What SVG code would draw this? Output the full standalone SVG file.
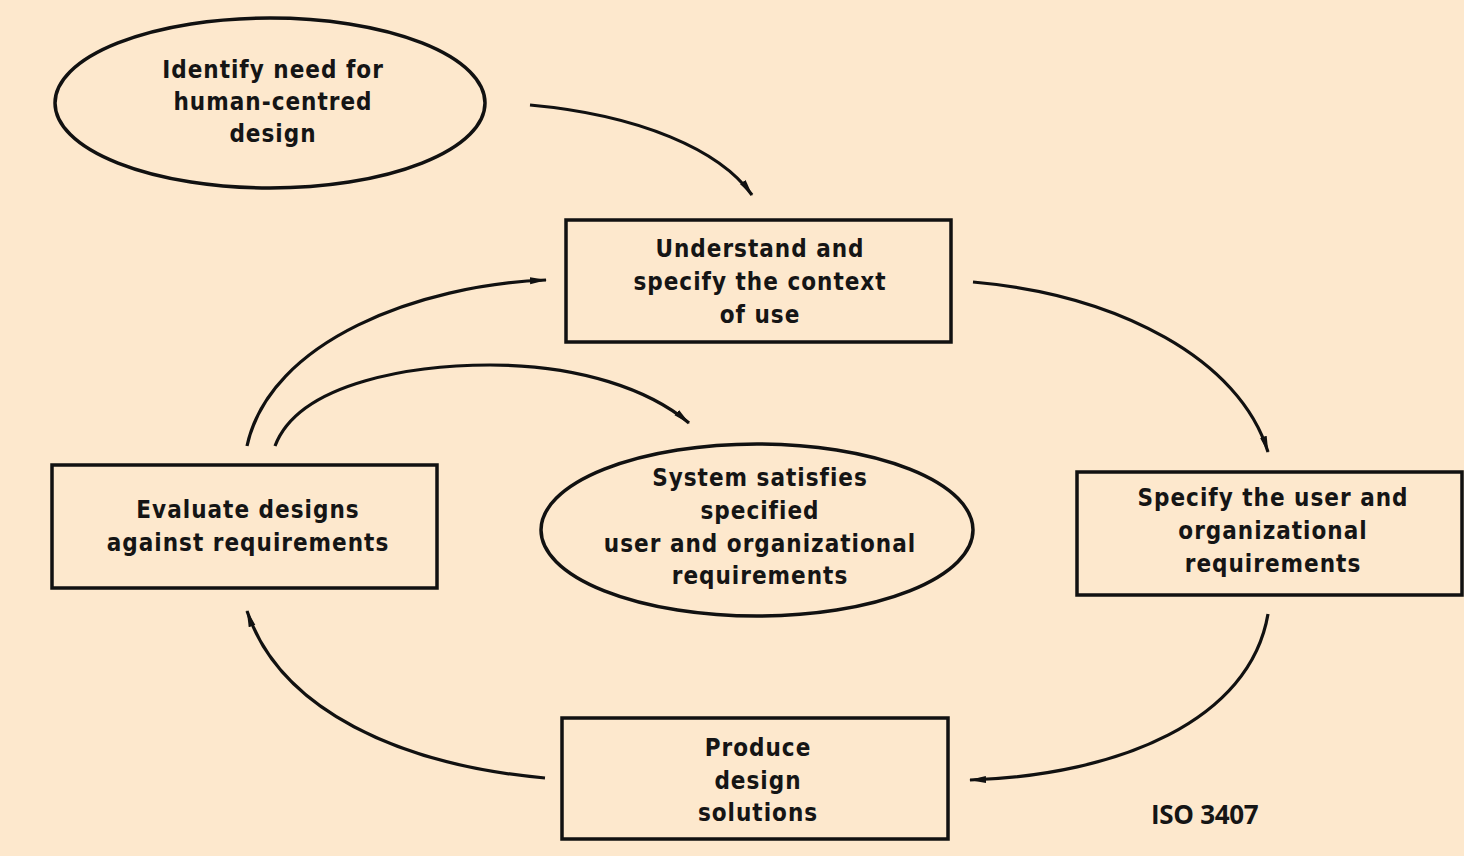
<svg xmlns="http://www.w3.org/2000/svg" width="1464" height="856" viewBox="0 0 1464 856">
  <defs>
    <style>
      .bg { fill: #fde8cd; }
      .node { fill: none; stroke: #111; stroke-width: 3.5; }
      .label { font-family: "DejaVu Sans Condensed", "DejaVu Sans", sans-serif; font-weight: bold; font-size: 24px; fill: #151515; text-anchor: middle; letter-spacing: 1px; }
      .conn { fill: none; stroke: #111; stroke-width: 3.2; marker-end: url(#head); }
      .note { font-family: "Open Sans", "Liberation Sans", sans-serif; font-weight: bold; font-size: 26px; fill: #151515; letter-spacing: -0.3px; }
    </style>
    <marker id="head" viewBox="0 0 18 10" refX="16" refY="5" markerWidth="18" markerHeight="10" markerUnits="userSpaceOnUse" orient="auto">
      <path d="M0,1.5 L17,5 L0,8.5 Z" fill="#111"/>
    </marker>
  </defs>

  <rect class="bg" x="0" y="0" width="1464" height="856"/>

  <g id="connectors">
    <path class="conn" d="M530,105 C640,115 720,150 752,195"/>
    <path class="conn" d="M973,282 C1120,295 1240,360 1268,452"/>
    <path class="conn" d="M1268,614 C1250,720 1120,775 970,780"/>
    <path class="conn" d="M545,778 C400,765 280,710 247,611"/>
    <path class="conn" d="M247,446 C270,340 420,285 546,280"/>
    <path class="conn" d="M275,446 C300,380 420,365 490,365 C580,365 650,390 689,423"/>
  </g>

  <g id="identify-need">
    <ellipse class="node" cx="270" cy="103" rx="215" ry="85"/>
    <text class="label" x="273" y="78">Identify need for</text>
    <text class="label" x="273" y="110">human-centred</text>
    <text class="label" x="273" y="142">design</text>
  </g>

  <g id="context-of-use">
    <rect class="node" x="566" y="220" width="385" height="122"/>
    <text class="label" x="760" y="257">Understand and</text>
    <text class="label" x="760" y="290">specify the context</text>
    <text class="label" x="760" y="323">of use</text>
  </g>

  <g id="user-requirements">
    <rect class="node" x="1077" y="472" width="385" height="123"/>
    <text class="label" x="1273" y="506">Specify the user and</text>
    <text class="label" x="1273" y="539">organizational</text>
    <text class="label" x="1273" y="572">requirements</text>
  </g>

  <g id="design-solutions">
    <rect class="node" x="562" y="718" width="386" height="121"/>
    <text class="label" x="758" y="756">Produce</text>
    <text class="label" x="758" y="789">design</text>
    <text class="label" x="758" y="821">solutions</text>
  </g>

  <g id="evaluate-designs">
    <rect class="node" x="52" y="465" width="385" height="123"/>
    <text class="label" x="248" y="518">Evaluate designs</text>
    <text class="label" x="248" y="551">against requirements</text>
  </g>

  <g id="system-satisfies">
    <ellipse class="node" cx="757" cy="530" rx="216" ry="86"/>
    <text class="label" x="760" y="486">System satisfies</text>
    <text class="label" x="760" y="519">specified</text>
    <text class="label" x="760" y="552">user and organizational</text>
    <text class="label" x="760" y="584">requirements</text>
  </g>

  <text class="note" x="1151" y="824">ISO 3407</text>
</svg>
